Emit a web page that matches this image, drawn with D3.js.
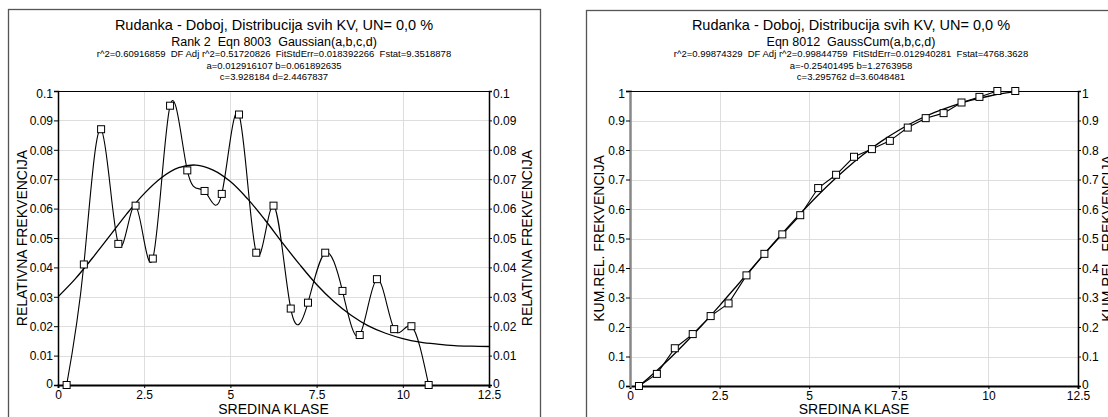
<!DOCTYPE html>
<html><head><meta charset="utf-8">
<script src="https://cdn.jsdelivr.net/npm/d3@7"></script>
<style>
body{margin:0;background:#fff}
svg text{font-family:"Liberation Sans",Arial,sans-serif;fill:#000;white-space:pre}
</style>
</head><body><svg id="c" width="1108" height="417"></svg>
<script>
// ---------- data ----------
const classMid = [0.25,0.75,1.25,1.75,2.25,2.75,3.25,3.75,4.25,4.75,5.25,5.75,6.25,6.75,7.25,7.75,8.25,8.75,9.25,9.75,10.25,10.75];
const relFreq  = [0,0.041,0.087,0.048,0.061,0.043,0.095,0.073,0.066,0.065,0.092,0.045,0.061,0.026,0.028,0.045,0.032,0.017,0.036,0.019,0.020,0];
const cumFreq  = [0,0.041,0.128,0.176,0.237,0.280,0.375,0.448,0.514,0.579,0.671,0.716,0.777,0.803,0.831,0.876,0.908,0.925,0.961,0.980,1.000,1.000];
const fitX     = [0,0.5,1,1.5,2,2.5,3,3.5,4,4.5,5,5.5,6,6.5,7,7.5,8,8.5,9,9.5,10,10.5,11,11.5,12,12.5];
const gaussFit = [0.0300,0.0361,0.0432,0.0507,0.0583,0.0651,0.0705,0.0739,0.0748,0.0731,0.0692,0.0633,0.0562,0.0485,0.0411,0.0342,0.0284,0.0237,0.0201,0.0176,0.0158,0.0146,0.0139,0.0134,0.0132,0.0131];
const gaussCumFit = [-0.0239,0.0255,0.0805,0.1407,0.2050,0.2726,0.3425,0.4130,0.4830,0.5511,0.6162,0.6772,0.7332,0.7837,0.8283,0.8669,0.8999,0.9274,0.9499,0.9680,0.9822,0.9933,1.0016,1.0078,1.0123,1.0156];
const xTicks   = [0,2.5,5,7.5,10,12.5];
const relTicks = [0,0.01,0.02,0.03,0.04,0.05,0.06,0.07,0.08,0.09,0.1];
const cumTicks = [0,0.1,0.2,0.3,0.4,0.5,0.6,0.7,0.8,0.9,1];
const mainTitle = "Rudanka - Doboj, Distribucija svih KV, UN= 0,0 %";
const leftHeader = ["Rank 2  Eqn 8003  Gaussian(a,b,c,d)",
  "r^2=0.60916859  DF Adj r^2=0.51720826  FitStdErr=0.018392266  Fstat=9.3518878",
  "a=0.012916107 b=0.061892635",
  "c=3.928184 d=2.4467837"];
const rightHeader = ["Eqn 8012  GaussCum(a,b,c,d)",
  "r^2=0.99874329  DF Adj r^2=0.99844759  FitStdErr=0.012940281  Fstat=4768.3628",
  "a=-0.25401495 b=1.2763958",
  "c=3.295762 d=3.6048481"];
const xTitle = "SREDINA KLASE";
const leftYTitle = "RELATIVNA FREKVENCIJA";
const rightYTitle = "KUM.REL. FREKVENCIJA";

// ---------- drawing ----------
const svg = d3.select("#c");

function panel(o){
  const g = svg.append("g");
  // frame
  g.append("rect").attr("x",o.frame[0]+0.5).attr("y",o.frame[1]+0.5)
    .attr("width",o.frame[2]-o.frame[0]).attr("height",440)
    .attr("fill","none").attr("stroke","#555").attr("stroke-width",1.3);
  const x = d3.scaleLinear().domain([0,12.5]).range([o.l,o.r]);
  const y = d3.scaleLinear().domain([0,o.yMax]).range([o.b,o.t]);
  const cx = o.center;
  // header
  g.append("text").attr("x",cx).attr("y",29.5).attr("text-anchor","middle").style("font-size","14.5px").text(mainTitle);
  const hy = [45.5,57,69,79.5], hs=["12.5px","9.5px","9.5px","9.5px"];
  o.header.forEach((t,i)=>g.append("text").attr("x",cx).attr("y",hy[i]).attr("text-anchor","middle").style("font-size",hs[i]).text(t));
  // grid
  const grid = g.append("g").attr("stroke","#d6d6d6").attr("stroke-width",0.8);
  o.yTicks.filter(v=>v>0 && v<o.yMax).forEach(v=>grid.append("line").attr("x1",o.l).attr("x2",o.r).attr("y1",Math.round(y(v))+0.5).attr("y2",Math.round(y(v))+0.5));
  xTicks.filter(v=>v>0 && v<12.5).forEach(v=>grid.append("line").attr("y1",o.t).attr("y2",o.b).attr("x1",Math.round(x(v))+0.5).attr("x2",Math.round(x(v))+0.5));
  // clip
  const cid = "clip"+o.id;
  svg.append("clipPath").attr("id",cid).append("rect").attr("x",o.l).attr("y",o.t).attr("width",o.r-o.l).attr("height",o.b-o.t);
  const pts = classMid.map((v,i)=>[v,o.values[i]]);
  const fit = fitX.map((v,i)=>[v,o.fit[i]]);
  // fitted curve
  g.append("path").attr("clip-path",`url(#${cid})`).attr("d",d3.line().x(d=>x(d[0])).y(d=>y(d[1])).curve(d3.curveCatmullRom)(fit))
    .attr("fill","none").attr("stroke","#000").attr("stroke-width",1.3);
  // data line
  g.append("path").attr("clip-path",`url(#${cid})`).attr("d",d3.line().x(d=>x(d[0])).y(d=>y(d[1])).curve(o.curve)(pts))
    .attr("fill","none").attr("stroke","#000").attr("stroke-width",1.1);
  // axes
  const fmt = v=>String(v);
  const ax = g.append("g").attr("transform",`translate(0,${o.b})`).call(d3.axisBottom(x).tickValues(xTicks).tickFormat(fmt).tickSize(3).tickPadding(2));
  const al = g.append("g").attr("transform",`translate(${o.l},0)`).call(d3.axisLeft(y).tickValues(o.yTicks).tickFormat(fmt).tickSize(4).tickPadding(1));
  const ar = g.append("g").attr("transform",`translate(${o.r},0)`).call(d3.axisRight(y).tickValues(o.yTicks).tickFormat(fmt).tickSize(3).tickPadding(1));
  [ax,al,ar].forEach(a=>{a.selectAll("text").style("font-size","12px").attr("fill","#000").style("font-family","'Liberation Sans',Arial,sans-serif");
    a.selectAll(".tick line").attr("stroke","#000");});
  [al,ar].forEach(a=>a.selectAll("text").attr("dy",d=>d===0?"0.22em":(d===o.yMax?"0.55em":"0.35em")));
  ax.select(".domain").attr("stroke","#000").attr("stroke-width",2);
  al.select(".domain").attr("stroke",o.leftAxisColor).attr("stroke-width",o.leftAxisWidth);
  ar.select(".domain").attr("stroke","#000").attr("stroke-width",1.5);
  g.append("line").attr("x1",o.l).attr("x2",o.r).attr("y1",o.t+0.5).attr("y2",o.t+0.5).attr("stroke","#000").attr("stroke-width",1);
  // markers
  g.append("g").selectAll("rect").data(pts).join("rect")
    .attr("x",d=>x(d[0])-3.5).attr("y",d=>y(d[1])-3.5).attr("width",7).attr("height",7)
    .attr("fill","#fff").attr("stroke","#000").attr("stroke-width",1);
  // axis titles
  g.append("text").attr("x",(o.l+o.r)/2).attr("y",414).attr("text-anchor","middle").style("font-size","14px").text(xTitle);
  const my = (o.t+o.b)/2;
  g.append("text").attr("transform",`translate(${o.yl},${my}) rotate(-90)`).attr("text-anchor","middle").style("font-size","14px").text(o.yTitle);
  g.append("text").attr("transform",`translate(${o.yr},${my}) rotate(-90)`).attr("text-anchor","middle").style("font-size","14px").text(o.yTitle);
}

panel({id:"L", frame:[8,9,540], l:58, r:489, t:91, b:385, center:274, yMax:0.1, yTicks:relTicks,
  values:relFreq, fit:gaussFit, curve:d3.curveNatural, header:leftHeader, yTitle:leftYTitle,
  leftAxisColor:"#000", leftAxisWidth:1.5, yl:27, yr:532});
panel({id:"R", frame:[586,10,1112], l:630, r:1078, t:91, b:386, center:851, yMax:1, yTicks:cumTicks,
  values:cumFreq, fit:gaussCumFit, curve:d3.curveLinear, header:rightHeader, yTitle:rightYTitle,
  leftAxisColor:"#888", leftAxisWidth:2.5, yl:604, yr:1112});
</script>
</body></html>
